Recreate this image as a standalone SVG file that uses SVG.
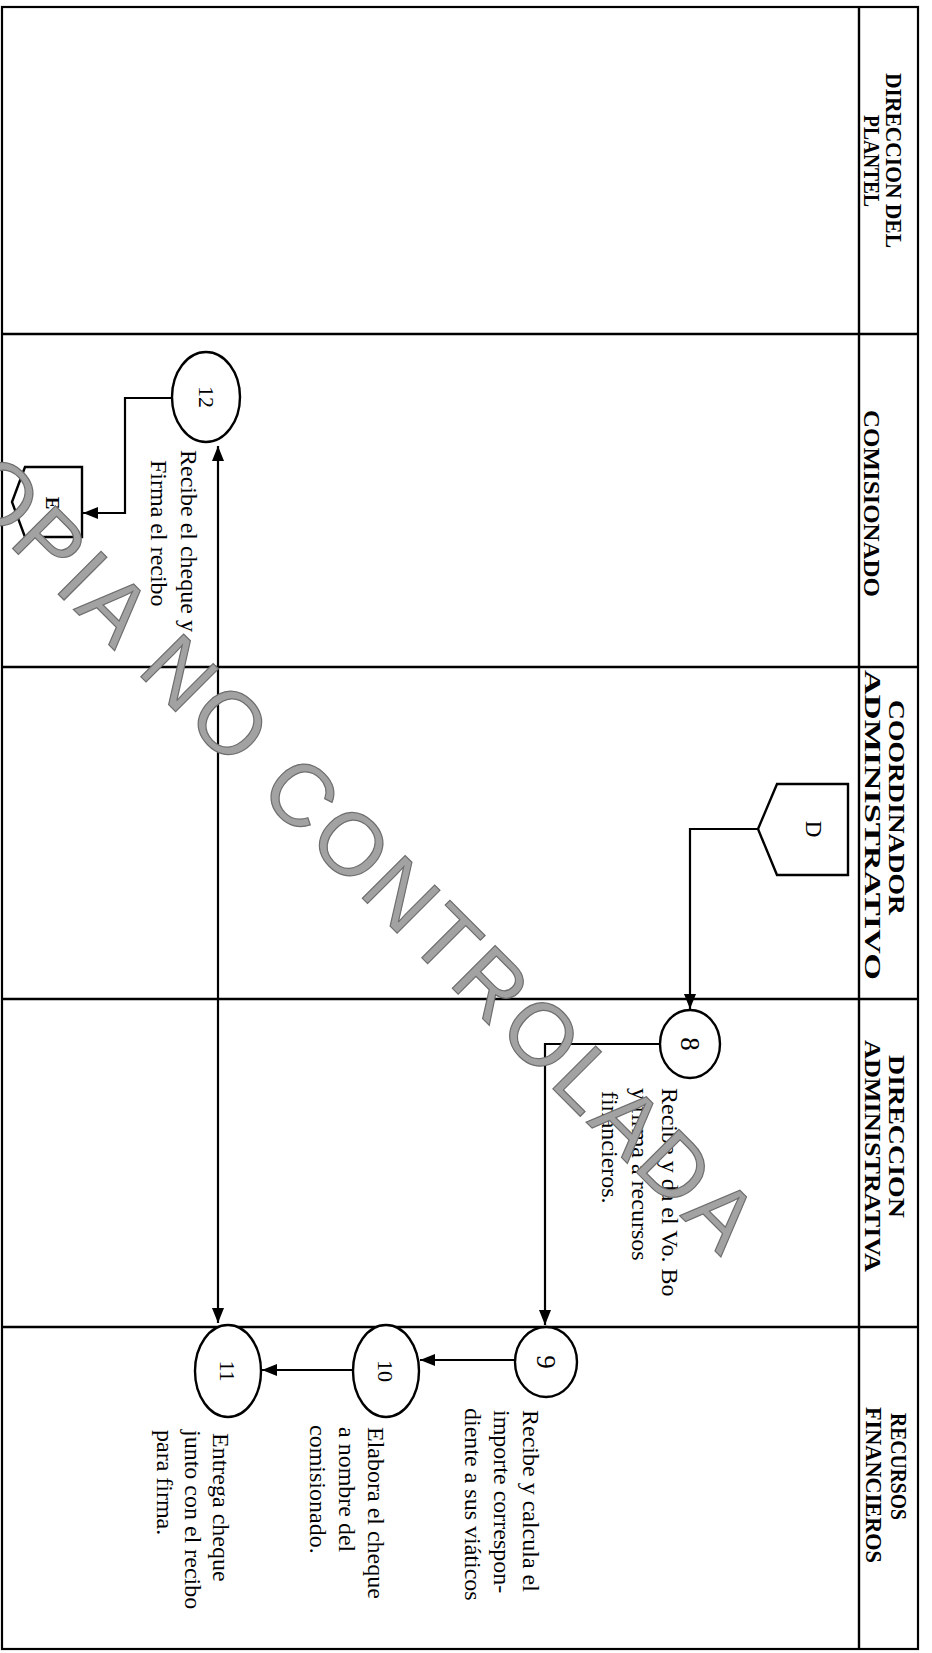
<svg xmlns="http://www.w3.org/2000/svg" width="932" height="1653" viewBox="0 0 932 1653">
<style>
.frame{fill:none;stroke:#000;stroke-width:2.2}
.lane{stroke:#000;stroke-width:2.4}
.hdr{font-family:"Liberation Serif",serif;font-weight:bold;font-size:23px;fill:#000}
.txt{font-family:"Liberation Serif",serif;font-size:24px;fill:#000}
.num{font-family:"Liberation Serif",serif;font-size:22px;text-anchor:middle;fill:#000}
.node{fill:#fff;stroke:#000;stroke-width:2.4}
.conn{fill:none;stroke:#000;stroke-width:2.2}
.wm{font-family:"Liberation Sans",sans-serif;font-size:88px;letter-spacing:5px;fill:#a2a2a2;stroke:#6e6e6e;stroke-width:1.2}
</style>
<defs>
<marker id="ah" markerUnits="userSpaceOnUse" markerWidth="15" markerHeight="12" refX="15" refY="6" orient="auto-start-reverse">
<path d="M0,0 L15,6 L0,12 z" fill="#000"/>
</marker>
</defs>
<rect width="932" height="1653" fill="#fff"/>
<g id="frame">
<rect class="frame" x="2" y="7" width="916" height="1642"/>
<line class="lane" x1="859" y1="7" x2="859" y2="1649"/>
<line class="lane" x1="2" y1="334" x2="918" y2="334"/>
<line class="lane" x1="2" y1="667" x2="918" y2="667"/>
<line class="lane" x1="2" y1="999" x2="918" y2="999"/>
<line class="lane" x1="2" y1="1327" x2="918" y2="1327"/>
</g>
<g id="headers">
<text class="hdr" transform="translate(886,73) rotate(90)" textLength="175" lengthAdjust="spacingAndGlyphs">DIRECCION DEL</text>
<text class="hdr" transform="translate(864,115) rotate(90)" textLength="92" lengthAdjust="spacingAndGlyphs">PLANTEL</text>
<text class="hdr" transform="translate(864,410) rotate(90)" textLength="187" lengthAdjust="spacingAndGlyphs">COMISIONADO</text>
<text class="hdr" transform="translate(889,700) rotate(90)" textLength="215" lengthAdjust="spacingAndGlyphs">COORDINADOR</text>
<text class="hdr" transform="translate(865,670) rotate(90)" textLength="310" lengthAdjust="spacingAndGlyphs">ADMINISTRATIVO</text>
<text class="hdr" transform="translate(889,1055) rotate(90)" textLength="163" lengthAdjust="spacingAndGlyphs">DIRECCION</text>
<text class="hdr" transform="translate(865,1040) rotate(90)" textLength="232" lengthAdjust="spacingAndGlyphs">ADMINISTRATIVA</text>
<text class="hdr" transform="translate(891,1413) rotate(90)" textLength="107" lengthAdjust="spacingAndGlyphs">RECURSOS</text>
<text class="hdr" transform="translate(866,1407) rotate(90)" textLength="156" lengthAdjust="spacingAndGlyphs">FINANCIEROS</text>
</g>
<g id="connectors">
<path class="conn" d="M758,829 H690 V1009" marker-end="url(#ah)"/>
<path class="conn" d="M660,1044 H545 V1325" marker-end="url(#ah)"/>
<path class="conn" d="M515,1360 H420" marker-end="url(#ah)"/>
<path class="conn" d="M353,1370 H262" marker-end="url(#ah)"/>
<path class="conn" d="M218,1323 V446" marker-start="url(#ah)" marker-end="url(#ah)"/>
<path class="conn" d="M172,398 H125 V513 H83" marker-end="url(#ah)"/>
</g>
<g id="node-D">
<path class="node" d="M758,829 L777,784 H848 V875 H777 Z"/>
<text class="num" style="font-size:23px" transform="translate(806,829) rotate(90)">D</text>
</g>
<g id="node-8">
<ellipse class="node" cx="690" cy="1044" rx="30" ry="34"/>
<text class="num" style="font-size:27px" transform="translate(681,1044) rotate(90)">8</text>
<text class="txt" transform="translate(662,1088) rotate(90)">Recibe y da el Vo. Bo</text>
<text class="txt" transform="translate(632,1088) rotate(90)">y firma a recursos</text>
<text class="txt" transform="translate(602,1091) rotate(90)">financieros.</text>
</g>
<g id="node-9">
<ellipse class="node" cx="546" cy="1362" rx="31" ry="35"/>
<text class="num" style="font-size:27px" transform="translate(537,1362) rotate(90)">9</text>
<text class="txt" transform="translate(523,1410) rotate(90)">Recibe y calcula el</text>
<text class="txt" transform="translate(494,1410) rotate(90)">importe correspon-</text>
<text class="txt" transform="translate(465,1408) rotate(90)">diente a sus viáticos</text>
</g>
<g id="node-10">
<ellipse class="node" cx="386" cy="1371" rx="33" ry="46"/>
<text class="num" transform="translate(378,1371) rotate(90)">10</text>
<text class="txt" transform="translate(368,1427) rotate(90)">Elabora el cheque</text>
<text class="txt" transform="translate(339,1427) rotate(90)">a nombre del</text>
<text class="txt" transform="translate(310,1425) rotate(90)">comisionado.</text>
</g>
<g id="node-11">
<ellipse class="node" cx="228" cy="1371" rx="33" ry="46"/>
<text class="num" transform="translate(220,1371) rotate(90)">11</text>
<text class="txt" transform="translate(213,1433) rotate(90)">Entrega cheque</text>
<text class="txt" transform="translate(185,1430) rotate(90)">junto con el recibo</text>
<text class="txt" transform="translate(157,1430) rotate(90)">para firma.</text>
</g>
<g id="node-12">
<ellipse class="node" cx="206" cy="397" rx="34" ry="45"/>
<text class="num" transform="translate(199,397) rotate(90)">12</text>
<text class="txt" transform="translate(181,450) rotate(90)">Recibe el cheque y</text>
<text class="txt" transform="translate(151,460) rotate(90)">Firma el recibo</text>
</g>
<g id="node-E">
<path class="node" d="M12,502 L25,467 H82 V537 H25 Z"/>
<text class="num" style="font-size:19px;font-weight:bold" transform="translate(46,503) rotate(90)">E</text>
</g>
<g id="watermark">
<text class="wm" transform="translate(-93,443) rotate(45)">COPIA NO CONTROLADA</text>
</g>
</svg>
